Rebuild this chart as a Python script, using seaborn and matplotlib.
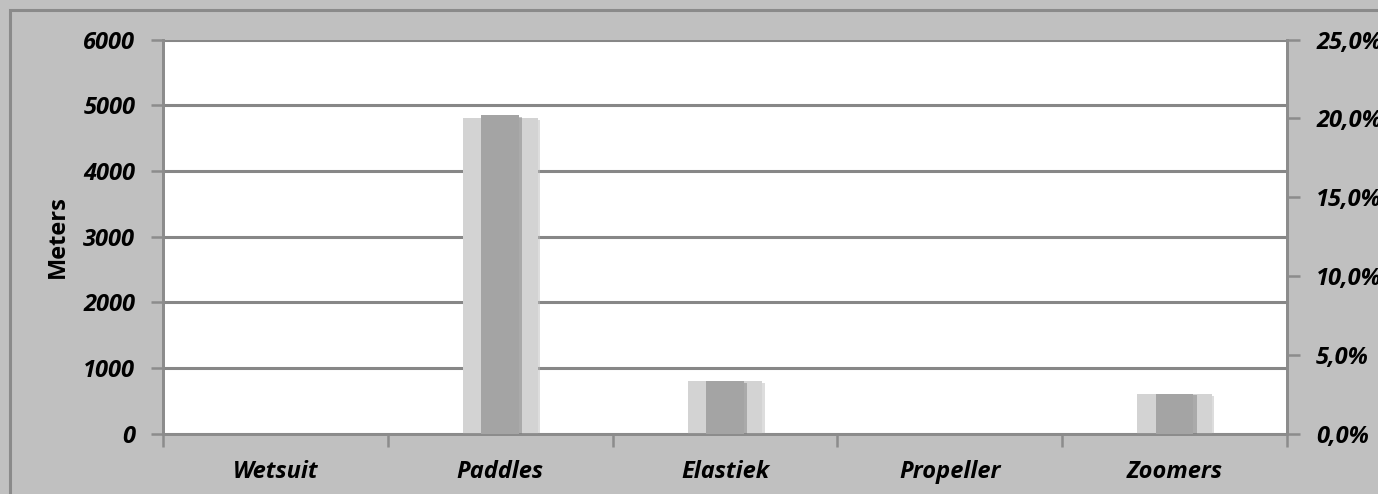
import matplotlib
matplotlib.use("Agg")
import matplotlib.pyplot as plt
import matplotlib.patheffects as pe
from matplotlib.ticker import FixedLocator
import pandas as pd
import seaborn as sns

categories = ["Wetsuit", "Paddles", "Elastiek", "Propeller", "Zoomers"]
meters = [0, 4800, 800, 0, 600]
percent = [0.0, 20.2, 3.3, 0.0, 2.5]
meter_ticks = [0, 1000, 2000, 3000, 4000, 5000, 6000]
percent_ticks = [0, 5, 10, 15, 20, 25]

sns.set_theme(style="white")
plt.rcParams["font.family"] = ["Open Sans", "DejaVu Sans"]

BG = "#c0c0c0"
GRID = "#878787"
AXIS = "#8c8c8c"

df = pd.DataFrame({"cat": categories, "m": meters, "p": percent})

fig = plt.figure(figsize=(13.78, 4.94), dpi=100, facecolor=BG)
ax = fig.add_axes([163 / 1378, 1 - 433.5 / 494, (1287 - 163) / 1378, (433.5 - 39.5) / 494])
ax.set_facecolor("white")

# outer frame of the chart area
fig.patches.append(plt.Rectangle((10 / 1378, -0.1), 1.2, (484 / 494) + 0.1,
                                 transform=fig.transFigure, fill=False,
                                 edgecolor="#8a8a8a", linewidth=2.2, zorder=0))

# wide bars: meters on the left axis
sns.barplot(data=df, x="cat", y="m", ax=ax, color="#d3d3d3", width=0.333,
            saturation=1, linewidth=0, zorder=3)
for bar in ax.patches:
    bar.set_path_effects([pe.SimplePatchShadow(offset=(1.5, -1.5), shadow_rgbFace="#bdbdbd", alpha=0.5),
                          pe.Normal()])

# narrow bars: share on the right axis
ax2 = ax.twinx()
sns.barplot(data=df, x="cat", y="p", ax=ax2, color="#a4a4a4", width=0.167,
            saturation=1, linewidth=0, zorder=4)
for bar in ax2.patches:
    bar.set_path_effects([pe.SimplePatchShadow(offset=(2.5, -1), shadow_rgbFace="#7a7a7a", alpha=0.45),
                          pe.Normal()])

ax.set_ylim(0, 6000)
ax2.set_ylim(0, 25)
ax.set_xlim(-0.5, 4.5)

FS = 17
tick_font = dict(fontsize=FS, fontweight="bold", fontstyle="italic", color="black")

ax.set_yticks(meter_ticks)
ax.set_yticklabels([str(t) for t in meter_ticks], **tick_font)
ax2.set_yticks(percent_ticks)
ax2.set_yticklabels([f"{t:.1f}".replace(".", ",") + "%" for t in percent_ticks], **tick_font)

ax.set_xticks(range(len(categories)))
ax.set_xticklabels(categories, **tick_font)
ax.xaxis.set_minor_locator(FixedLocator([-0.5, 0.5, 1.5, 2.5, 3.5, 4.5]))
ax.tick_params(axis="x", which="major", length=0, pad=19)
ax.tick_params(axis="x", which="minor", length=9, width=1.8, color=AXIS, direction="out", bottom=True)
ax.tick_params(axis="y", length=9, width=1.8, color=AXIS, direction="out", pad=11, left=True)
ax2.tick_params(axis="y", length=9, width=1.8, color=AXIS, direction="out", pad=12, right=True)

ax.set_xlabel("")
ax.set_ylabel("Meters", fontsize=FS, fontweight="bold", color="black")
ax.yaxis.set_label_coords(-0.083, 0.5)
ax2.set_ylabel("")

ax.yaxis.grid(True, color=GRID, linewidth=2.2, zorder=1)
ax.set_axisbelow(True)

for a in (ax, ax2):
    a.spines["top"].set_visible(False)
    for s in ("left", "right", "bottom"):
        a.spines[s].set_color(AXIS)
        a.spines[s].set_linewidth(2)
ax2.patch.set_visible(False)

fig.savefig("out.png", dpi=100, facecolor=BG)
